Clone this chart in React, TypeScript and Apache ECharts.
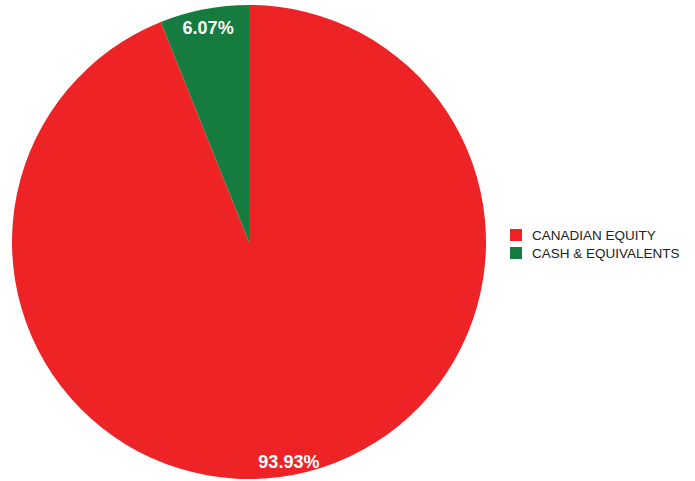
import React, { useEffect, useRef } from "react";
import * as echarts from "echarts";

const categories = ["CANADIAN EQUITY", "CASH & EQUIVALENTS"];
const values = [93.93, 6.07];
const colors = ["#ED2326", "#157B3F"];

export default function App() {
  const ref = useRef<HTMLDivElement>(null);
  useEffect(() => {
    document.body.style.margin = "0";
    const chart = echarts.init(ref.current!, undefined, { renderer: "svg" });
    const data = categories.map((name, i) => ({ name, value: values[i], itemStyle: { color: colors[i] } }));
    const labelOffsets = [[-2, 3], [1, 3]];
    chart.setOption({
      animation: false,
      backgroundColor: "#ffffff",
      legend: {
        orient: "vertical",
        left: 505,
        top: 223,
        itemWidth: 12,
        itemHeight: 12,
        itemGap: 4,
        icon: "rect",
        data: categories,
        textStyle: {
          fontFamily: "Liberation Sans, Arial, sans-serif",
          fontSize: 13.5,
          lineHeight: 14,
          color: "#222",
          padding: [0, 0, 0, 5],
        },
      },
      series: [
        {
          type: "pie",
          center: [249, 242],
          radius: [0, 237],
          startAngle: 90,
          clockwise: true,
          label: { show: false },
          labelLine: { show: false },
          emphasis: { disabled: true },
          data,
        },
        {
          type: "pie",
          center: [249, 242],
          radius: [199, 237],
          startAngle: 90,
          clockwise: true,
          silent: true,
          legendHoverLink: false,
          itemStyle: { color: "transparent" },
          label: {
            show: true,
            position: "inside",
            formatter: (p: any) => p.value.toFixed(2) + "%",
            color: "#ffffff",
            fontWeight: "bold",
            fontSize: 18,
            fontFamily: "Liberation Sans, Arial, sans-serif",
          },
          labelLine: { show: false },
          data: categories.map((name, i) => ({
            name: name + " ",
            value: values[i],
            label: { offset: labelOffsets[i] },
          })),
        },
      ],
    });
    return () => chart.dispose();
  }, []);
  return <div ref={ref} style={{ width: 695, height: 481 }} />;
}
